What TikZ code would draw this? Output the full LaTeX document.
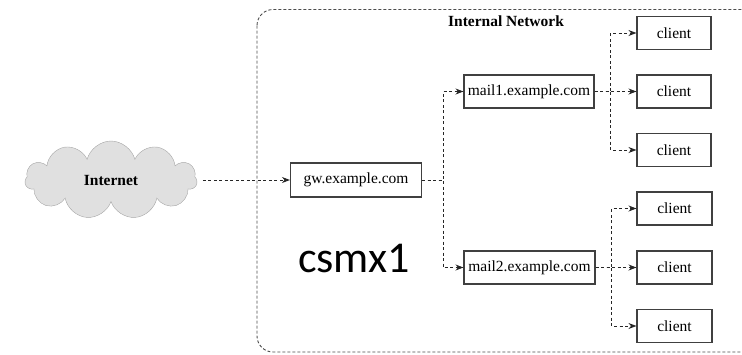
\documentclass[tikz,border=0pt]{standalone}
\usepackage{fontspec}
\setmainfont{Liberation Serif}
\newfontfamily\calfont{Carlito}
\usetikzlibrary{arrows.meta,shapes.symbols}
\tikzset{
	box/.style={draw=black!75,line width=1.1pt,inner sep=0pt,font=\fontsize{15.5}{17}\selectfont},
	link/.style={draw=black!85,line width=0.9pt,dash pattern=on 3pt off 2.5pt,-{Stealth[length=8pt,width=6pt]}},
	frame/.style={draw=black!70,line width=0.9pt,dash pattern=on 3pt off 2pt,rounded corners=16pt}
}
\begin{document}
\begin{tikzpicture}[x=1pt,y=-1pt]
				\useasboundingbox (0,0) rectangle (742,354);
				\draw[frame] (257,9.5) rectangle (760,352);
				\node[font=\bfseries\fontsize{15.5}{17}\selectfont] (netlabel) at (506,21) {Internal Network};
				\node[cloud,cloud puffs=11,aspect=2.3,draw=black!35,fill=black!12,minimum width=172pt,minimum height=78pt,font=\bfseries\fontsize{15.5}{17}\selectfont] (inet) at (111,180) {Internet};
				\node[box,minimum width=131pt,minimum height=34pt] (gw) at (356,180) {gw.example.com};
				\node[box,minimum width=130pt,minimum height=33pt] (mailA) at (529,91.5) {mail1.example.com};
				\node[box,minimum width=131pt,minimum height=33pt] (mailB) at (529.5,267.5) {mail2.example.com};
				\foreach \y/\n in {33/1,91.5/2,150/3}
				\node[box,minimum width=74pt,minimum height=33pt] (clA\n) at (674,\y) {client};
				\foreach \y/\n in {208.5/1,267.5/2,326/3}
				\node[box,minimum width=75pt,minimum height=33pt] (clB\n) at (674.5,\y) {client};
				\node[font=\calfont\fontsize{44}{48}\selectfont] (name) at (354,258) {csmx1};
				\draw[link] ([xshift=6pt]inet.east) -- (gw.west);
				\draw[link] (gw.east) -- ++(21,0) |- (mailA.west);
				\draw[link] (gw.east) -- ++(21,0) |- (mailB.west);
				\foreach \n in {1,2,3}
				\draw[link] (mailA.east) -- ++(16,0) |- (clA\n.west);
				\foreach \n in {1,2,3}
				\draw[link] (mailB.east) -- ++(16,0) |- (clB\n.west);
			\end{tikzpicture}
\end{document}
